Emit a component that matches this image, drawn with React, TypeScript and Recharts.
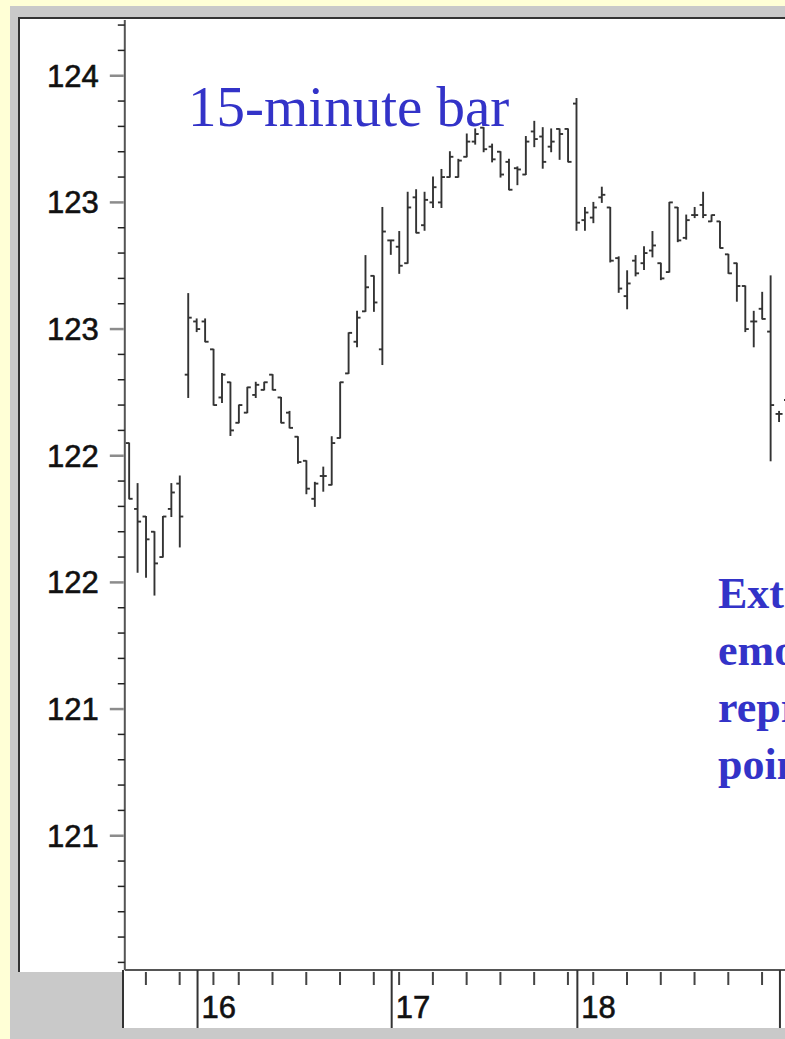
import { ComposedChart, Bar, XAxis, YAxis } from 'recharts';

// 15-minute OHLC bars
const OPEN = [
  122.55, 122.29, 122.26, 122.2, 122.1, 122.29, 122.39, 122.82, 123.03, 123.03,
  122.92, 122.73, 122.79, 122.63, 122.67, 122.74, 122.76, 122.82, 122.73, 122.67,
  122.575, 122.48, 122.33, 122.42, 122.385, 122.57, 122.825, 122.95, 123.07, 123.21,
  122.92, 123.35, 123.325, 123.26, 123.52, 123.41, 123.5, 123.5, 123.6, 123.6,
  123.68, 123.74, 123.795, 123.72, 123.7, 123.66, 123.635, 123.61, 123.78, 123.76,
  123.72, 123.79, 123.79, 123.89, 123.43, 123.44, 123.52, 123.48, 123.28, 123.13,
  123.27, 123.26, 123.31, 123.26, 123.225, 123.48, 123.36, 123.45, 123.49, 123.425,
  123.425, 123.295, 123.26, 123.17, 123.03, 123.08, 122.99, 122.665, 122.72,
];
const HIGH = [
  122.55, 122.39, 122.26, 122.2, 122.26, 122.39, 122.42, 123.14, 123.04, 123.04,
  122.92, 122.825, 122.79, 122.7, 122.77, 122.79, 122.79, 122.82, 122.73, 122.675,
  122.575, 122.48, 122.395, 122.455, 122.575, 122.79, 122.985, 123.07, 123.29, 123.21,
  123.48, 123.35, 123.385, 123.54, 123.55, 123.54, 123.6, 123.63, 123.7, 123.67,
  123.77, 123.79, 123.795, 123.73, 123.7, 123.67, 123.64, 123.76, 123.82, 123.795,
  123.79, 123.79, 123.79, 123.91, 123.48, 123.5, 123.56, 123.48, 123.285, 123.23,
  123.29, 123.325, 123.385, 123.26, 123.5, 123.48, 123.45, 123.48, 123.54, 123.45,
  123.425, 123.295, 123.26, 123.17, 123.07, 123.145, 123.21, 122.675, 122.83,
];
const LOW = [
  122.33, 122.04, 122.02, 121.95, 122.1, 122.26, 122.14, 122.73, 122.99, 122.95,
  122.7, 122.71, 122.58, 122.63, 122.67, 122.73, 122.76, 122.76, 122.63, 122.61,
  122.47, 122.35, 122.3, 122.36, 122.385, 122.57, 122.825, 122.93, 123.07, 123.07,
  122.86, 123.295, 123.22, 123.26, 123.38, 123.39, 123.48, 123.48, 123.6, 123.6,
  123.68, 123.73, 123.7, 123.66, 123.6, 123.55, 123.57, 123.61, 123.72, 123.635,
  123.7, 123.67, 123.66, 123.39, 123.39, 123.42, 123.5, 123.265, 123.145, 123.08,
  123.21, 123.235, 123.285, 123.195, 123.225, 123.345, 123.355, 123.44, 123.44, 123.425,
  123.32, 123.22, 123.11, 122.99, 122.93, 123.04, 122.48, 122.635, 122.71,
];
const CLOSE = [
  122.33, 122.24, 122.17, 122.075, 122.26, 122.355, 122.26, 123.045, 123.0, 122.95,
  122.7, 122.82, 122.6, 122.7, 122.77, 122.78, 122.79, 122.76, 122.63, 122.61,
  122.475, 122.37, 122.39, 122.42, 122.55, 122.79, 122.985, 123.045, 123.165, 123.105,
  123.385, 123.35, 123.25, 123.48, 123.38, 123.51, 123.56, 123.6, 123.68, 123.665,
  123.74, 123.77, 123.71, 123.67, 123.61, 123.55, 123.63, 123.74, 123.75, 123.66,
  123.74, 123.77, 123.66, 123.42, 123.46, 123.48, 123.53, 123.27, 123.16, 123.18,
  123.22, 123.3, 123.33, 123.2, 123.5, 123.35, 123.43, 123.45, 123.45, 123.45,
  123.32, 123.22, 123.17, 123.0, 123.03, 123.04, 122.7, 122.665, 122.82,
];

const Y_TICKS = [
  120.5, 120.6, 120.7, 120.8, 120.9, 121.0, 121.1, 121.2, 121.3, 121.4,
  121.5, 121.6, 121.7, 121.8, 121.9, 122.0, 122.1, 122.2, 122.3, 122.4,
  122.5, 122.6, 122.7, 122.8, 122.9, 123.0, 123.1, 123.2, 123.3, 123.4,
  123.5, 123.6, 123.7, 123.8, 123.9, 124.0, 124.1, 124.2,
];
// labelled ticks (the chart prints them without decimals)
const Y_LABELLED = [121.0, 121.5, 122.0, 122.5, 123.0, 123.5, 124.0];
// bar numbers where the hour ticks and the day lines sit
const HOUR_TICKS = [3, 7, 11, 14, 18, 22, 26, 30, 33, 37, 41, 45, 49, 53, 56, 60, 64, 68, 72, 76];
const DAY_TICKS = [9, 32, 54, 78];
const DAY_LABELS = ['16', '17', '18', '19'];

const TITLE = '15-minute bar';
const NOTE_LINES = ['Extreme', 'emotions', 'represent', 'points'];

const data = OPEN.map((o, k) => ({
  i: k + 1,
  open: o,
  high: HIGH[k],
  low: LOW[k],
  close: CLOSE[k],
}));

const SANS = '"Liberation Sans", Arial, sans-serif';
const SERIF = '"Liberation Serif", "Times New Roman", serif';
const BLUE = '#3333c8';

function OhlcBar(props: any) {
  const { x, y, width, height, payload } = props;
  if (x == null || !payload) return null;
  const top = Math.min(y, y + height);
  const bot = Math.max(y, y + height);
  const span = payload.high - payload.low || 1;
  const py = (v: number) => top + ((payload.high - v) / span) * (bot - top);
  const cx = x + width / 2;
  return (
    <g stroke="#333" strokeWidth={1.9}>
      <line x1={cx} x2={cx} y1={top - 0.5} y2={bot + 0.5} />
      <line x1={cx - 3.5} x2={cx} y1={py(payload.open)} y2={py(payload.open)} />
      <line x1={cx} x2={cx + 3.5} y1={py(payload.close)} y2={py(payload.close)} />
    </g>
  );
}

function YTick(props: any) {
  const { x, payload } = props;
  const v = payload.value;
  const yy = payload.coordinate;
  const labelled = Y_LABELLED.some((t) => Math.abs(t - v) < 1e-6);
  if (!labelled) {
    return <line x1={x - 7} x2={x} y1={yy} y2={yy} stroke="#222" strokeWidth={1.5} />;
  }
  return (
    <g>
      <line x1={x - 15} x2={x - 1} y1={yy} y2={yy} stroke="#8c8c8c" strokeWidth={2.5} />
      <text
        x={x - 26}
        y={yy + 11}
        textAnchor="end"
        fontFamily={SANS}
        fontSize={31}
        fill="#111"
        stroke="#111"
        strokeWidth={0.6}
      >
        {Math.floor(v + 1e-9)}
      </text>
    </g>
  );
}

function XTick(props: any) {
  const { x, y, payload } = props;
  const i = payload.value;
  const d = DAY_TICKS.indexOf(i);
  if (d >= 0) {
    return (
      <g>
        <line x1={x + 1} x2={x + 1} y1={y} y2={y + 58} stroke="#333" strokeWidth={2} />
        <text
          x={x + 5}
          y={y + 48}
          fontFamily={SANS}
          fontSize={31}
          fill="#111"
          stroke="#111"
          strokeWidth={0.6}
        >
          {DAY_LABELS[d]}
        </text>
      </g>
    );
  }
  if (HOUR_TICKS.includes(i)) {
    return <line x1={x} x2={x} y1={y + 2} y2={y + 15} stroke="#444" strokeWidth={2} />;
  }
  return <g />;
}

export default function App() {
  return (
    <div
      style={{
        position: 'absolute',
        left: 0,
        top: 0,
        width: 785,
        height: 1039,
        overflow: 'hidden',
        background: '#ffffd6',
      }}
    >
      {/* grey frame, white panel, axis strip */}
      <div style={{ position: 'absolute', left: 10, top: 6, width: 800, height: 1040, background: '#c9c9c9' }} />
      <div
        style={{
          position: 'absolute',
          left: 18,
          top: 17,
          width: 800,
          height: 953,
          background: '#fff',
          borderLeft: '2px solid #333',
          borderTop: '2px solid #333',
        }}
      />
      <div
        style={{
          position: 'absolute',
          left: 122,
          top: 970,
          width: 800,
          height: 58,
          background: '#fff',
          borderLeft: '2px solid #333',
        }}
      />
      <div style={{ position: 'absolute', left: 0, top: 0 }}>
        <ComposedChart
          width={800}
          height={1039}
          data={data}
          margin={{ top: 20, right: 8.4, bottom: 0, left: 0 }}
        >
          <XAxis
            dataKey="i"
            type="category"
            height={69}
            interval={0}
            tickSize={0}
            tickMargin={0}
            tickLine={false}
            axisLine={{ stroke: '#555', strokeWidth: 2 }}
            tick={(p: any) => <XTick {...p} />}
          />
          <YAxis
            type="number"
            width={124.8}
            domain={[120.47, 124.22]}
            allowDataOverflow
            ticks={Y_TICKS}
            interval={0}
            tickSize={0}
            tickMargin={0}
            tickLine={false}
            axisLine={{ stroke: '#555', strokeWidth: 2 }}
            tick={(p: any) => <YTick {...p} />}
          />
          <Bar
            dataKey={(d: any) => [d.low, d.high]}
            shape={(p: any) => <OhlcBar {...p} />}
            isAnimationActive={false}
          />
        </ComposedChart>
      </div>
      <svg width={785} height={1039} style={{ position: 'absolute', left: 0, top: 0, pointerEvents: 'none' }}>
        <text x={188} y={126} fontFamily={SERIF} fontSize={57} fill={BLUE}>
          {TITLE}
        </text>
        {NOTE_LINES.map((t, k) => (
          <text
            key={t}
            x={718}
            y={608 + k * 57}
            fontFamily={SERIF}
            fontSize={44}
            fontWeight="bold"
            fill={BLUE}
          >
            {t}
          </text>
        ))}
      </svg>
    </div>
  );
}
